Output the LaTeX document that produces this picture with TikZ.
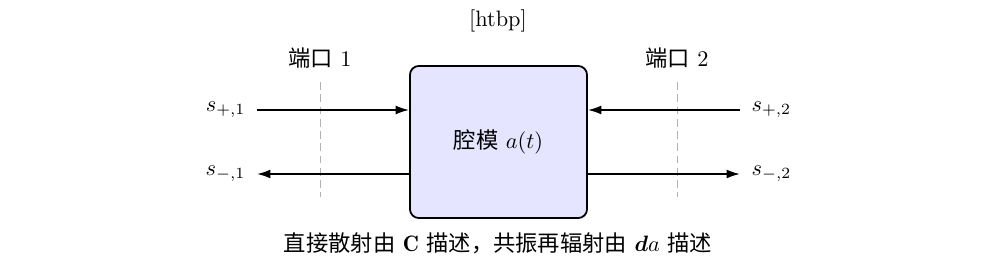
\documentclass[tikz,border=0pt]{standalone}
\usepackage{amsmath}
\usepackage{bm}
\usepackage{fontspec}
\newfontfamily\cjk{Noto Sans CJK SC}
\usetikzlibrary{arrows.meta}
\tikzset{
  arr/.style={-{Latex[length=6pt,width=4pt]}, line width=0.75pt},
  cavity/.style={draw, line width=0.8pt, fill=blue!10, rounded corners=4pt,
    minimum width=79.4pt, minimum height=68.2pt, inner sep=0pt},
  portline/.style={gray!60, line width=0.4pt, dash pattern=on 3.5pt off 2pt},
  lab/.style={inner sep=1pt}
}
\begin{document}
\begin{tikzpicture}[x=0.4484pt,y=-0.4484pt]
\useasboundingbox (0,0) rectangle (998,272);
\node[lab] (fig) at (498,21) {[htbp]};
\node[cavity] (cav) at (498.5,142) {{\cjk 腔模} $a(t)$};
\node[lab] (p1) at (320,58) {{\cjk 端口} 1};
\node[lab] (p2) at (677,58) {{\cjk 端口} 2};
\coordinate (d1t) at (320,82);
\coordinate (d1b) at (320,197);
\coordinate (d2t) at (677,82);
\coordinate (d2b) at (677,197);
\draw[portline] (d1t) -- (d1b);
\draw[portline] (d2t) -- (d2b);
\node[lab,anchor=east] (sp1) at (248,110) {$s_{+,1}$};
\node[lab,anchor=east] (sm1) at (248,174) {$s_{-,1}$};
\node[lab,anchor=west] (sp2) at (749,110) {$s_{+,2}$};
\node[lab,anchor=west] (sm2) at (749,174) {$s_{-,2}$};
\coordinate (a1) at (257,110);
\coordinate (b1) at (257,174);
\coordinate (a2) at (740,110);
\coordinate (b2) at (740,174);
\draw[arr] (a1) -- (a1 -| cav.west);
\draw[arr] (b1 -| cav.west) -- (b1);
\draw[arr] (a2) -- (a2 -| cav.east);
\draw[arr] (b2 -| cav.east) -- (b2);
\node[lab] (cap) at (498,243) {{\cjk 直接散射由} $\mathbf{C}$ {\cjk 描述，共振再辐射由} $\bm{d}a$ {\cjk 描述}};
\end{tikzpicture}
\end{document}
